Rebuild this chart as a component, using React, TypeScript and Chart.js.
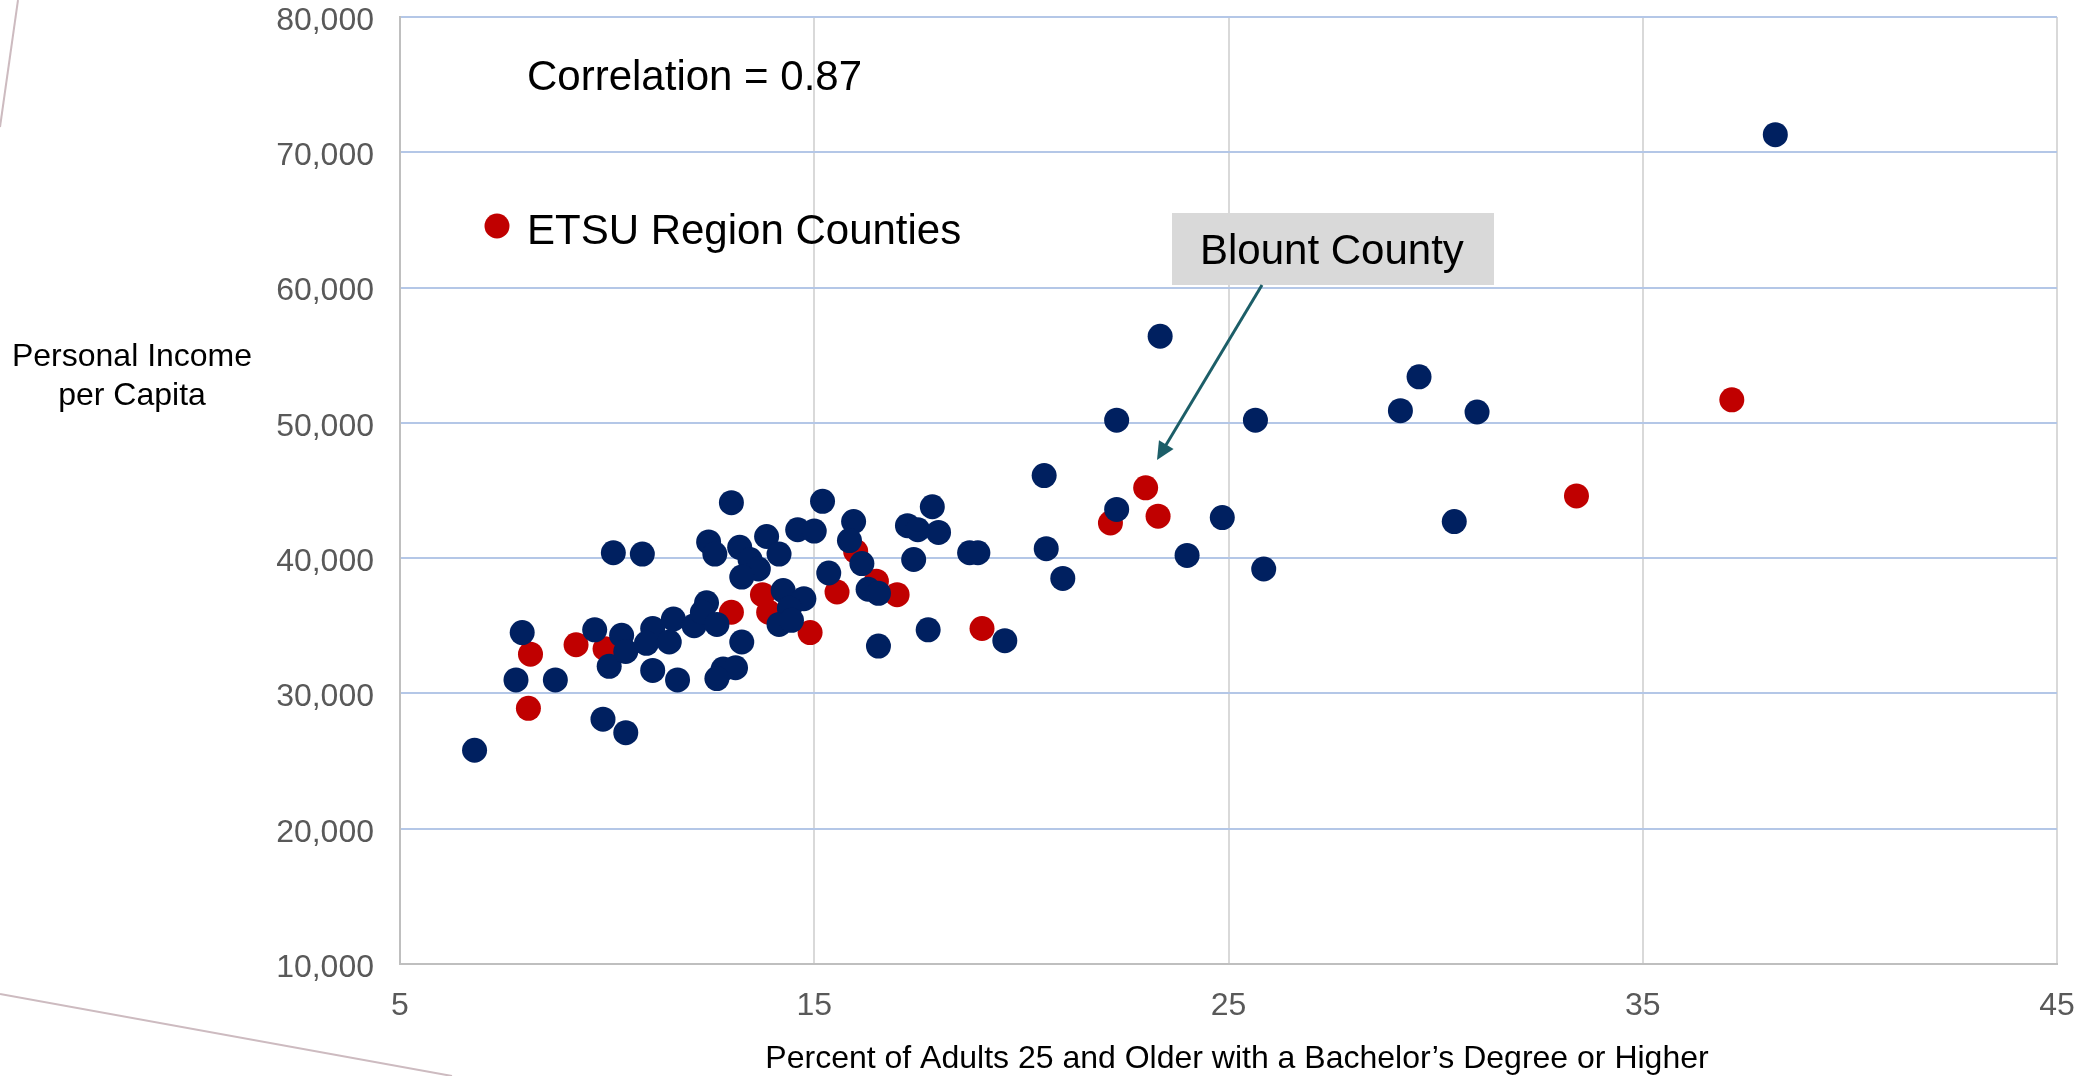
import React, { useEffect, useRef } from "react";
import { Chart, registerables } from "chart.js";

Chart.register(...registerables);

// ---- Data (percent with bachelor's degree, personal income per capita) ----
const otherX = [
  6.8, 7.95, 7.8, 8.75, 9.7, 10.15, 10.85, 10.35, 10.05, 10.45, 9.9, 10.45,
  11.1, 10.95, 11.1, 11.5, 11.6, 11.7, 12.1, 12.4, 12.3, 12.65, 13.25, 12.8,
  13.1, 12.65, 13.0, 12.45, 12.6, 13.2, 13.45, 13.65, 13.25, 13.85, 14.15,
  14.6, 15.0, 15.2, 15.35, 14.25, 14.75, 14.4, 14.15, 14.45, 15.95, 15.85,
  16.15, 16.3, 16.55, 16.55, 17.25, 17.5, 17.85, 18.0, 17.4, 17.75, 18.75,
  18.95, 19.6, 20.55, 20.6, 21.0, 22.3, 24.0, 23.35, 22.3, 25.65, 29.6,
  29.15, 24.85, 25.85, 31.0, 30.45, 38.2,
];
const otherY = [
  25800, 34500, 31000, 31000, 34700, 40400, 40300, 34300, 32000, 33100, 28100,
  27100, 34800, 33700, 31700, 33800, 35500, 31000, 35000, 36700, 36000, 35100,
  33800, 31800, 31900, 31100, 44100, 41200, 40300, 40800, 39900, 39200, 38600,
  41600, 40300, 42100, 42000, 44200, 38900, 37600, 37000, 36300, 35100, 35400,
  42700, 41300, 39600, 37700, 37400, 33500, 42400, 42100, 43800, 41900, 39900,
  34700, 40400, 40400, 33900, 46100, 40700, 38500, 43600, 40200, 56400, 50200,
  50200, 53400, 50900, 43000, 39200, 50800, 42700, 71300,
];
const etsuX = [
  8.15, 8.1, 9.25, 9.95, 13.0, 13.75, 13.9, 14.9, 15.55, 16.0, 16.5, 17.0,
  19.05, 22.15, 23.0, 23.3, 33.4, 37.15,
];
const etsuY = [
  32900, 28900, 33600, 33300, 36000, 37300, 36000, 34500, 37500, 40500, 38300,
  37300, 34800, 42600, 45200, 43100, 44600, 51700,
];
const xTickValues = [5, 15, 25, 35, 45];
const yTickValues = [10000, 20000, 30000, 40000, 50000, 60000, 70000, 80000];

const legendLabel = "ETSU Region Counties";
const correlationLabel = "Correlation = 0.87";
const calloutLabel = "Blount County";
const xTitle = "Percent of Adults 25 and Older with a Bachelor\u2019s Degree or Higher";
const yTitleLines = ["Personal Income", "per Capita"];

const NAVY = "#002060";
const RED = "#C00000";
const FONT = '"Liberation Sans", Arial, Helvetica, sans-serif';

const overlayPlugin = {
  id: "overlay",
  afterDraw(chart: any) {
    const ctx = chart.ctx as CanvasRenderingContext2D;
    ctx.save();

    // decorative slide lines
    ctx.strokeStyle = "#CDBBC0";
    ctx.lineWidth = 2;
    ctx.beginPath();
    ctx.moveTo(18, 0);
    ctx.lineTo(0, 127);
    ctx.stroke();
    ctx.beginPath();
    ctx.moveTo(0, 994);
    ctx.lineTo(452, 1076);
    ctx.stroke();

    // y axis title (horizontal, two lines)
    ctx.fillStyle = "#000000";
    ctx.textAlign = "center";
    ctx.textBaseline = "alphabetic";
    ctx.font = `32px ${FONT}`;
    ctx.fillText(yTitleLines[0], 132, 366);
    ctx.fillText(yTitleLines[1], 132, 405);

    // x axis title
    ctx.font = `32px ${FONT}`;
    ctx.fillText(xTitle, 1237, 1068);

    // correlation text
    ctx.textAlign = "left";
    ctx.font = `42px ${FONT}`;
    ctx.fillText(correlationLabel, 527, 90);

    // legend
    ctx.fillStyle = RED;
    ctx.beginPath();
    ctx.arc(497, 226, 12.5, 0, Math.PI * 2);
    ctx.fill();
    ctx.fillStyle = "#000000";
    ctx.fillText(legendLabel, 527, 244);

    // callout box
    ctx.fillStyle = "#D9D9D9";
    ctx.fillRect(1172, 213, 322, 72);
    ctx.fillStyle = "#000000";
    ctx.fillText(calloutLabel, 1200, 264);

    // arrow
    const sx = 1262, sy = 285, tx = 1157, ty = 460;
    const dx = tx - sx, dy = ty - sy;
    const len = Math.hypot(dx, dy);
    const ux = dx / len, uy = dy / len;
    const headLen = 18, headW = 8.5;
    ctx.strokeStyle = "#1C5E68";
    ctx.fillStyle = "#1C5E68";
    ctx.lineWidth = 3;
    ctx.beginPath();
    ctx.moveTo(sx, sy);
    ctx.lineTo(tx - ux * (headLen - 2), ty - uy * (headLen - 2));
    ctx.stroke();
    const bx = tx - ux * headLen, by = ty - uy * headLen;
    ctx.beginPath();
    ctx.moveTo(tx, ty);
    ctx.lineTo(bx - uy * headW, by + ux * headW);
    ctx.lineTo(bx + uy * headW, by - ux * headW);
    ctx.closePath();
    ctx.fill();

    ctx.restore();
  },
};

export default function App() {
  const canvasRef = useRef<HTMLCanvasElement | null>(null);

  useEffect(() => {
    document.body.style.margin = "0";
    const canvas = canvasRef.current;
    if (!canvas) return;

    const otherPoints = otherX.map((x, i) => ({ x, y: otherY[i] }));
    const etsuPoints = etsuX.map((x, i) => ({ x, y: etsuY[i] }));

    const tickFont = { family: FONT, size: 32, lineHeight: 1.0 };

    const chart = new Chart(canvas, {
      type: "scatter",
      data: {
        datasets: [
          {
            label: "All Counties",
            data: otherPoints,
            backgroundColor: NAVY,
            borderWidth: 0,
            pointRadius: 12.5,
            pointHoverRadius: 12.5,
          },
          {
            label: legendLabel,
            data: etsuPoints,
            backgroundColor: RED,
            borderWidth: 0,
            pointRadius: 12.5,
            pointHoverRadius: 12.5,
          },
        ],
      },
      options: {
        responsive: false,
        animation: false,
        devicePixelRatio: 1,
        events: [],
        layout: {
          padding: { top: 17, right: 33, left: 0, bottom: 0 },
        },
        plugins: {
          legend: { display: false },
          tooltip: { enabled: false },
          title: { display: false },
        },
        scales: {
          x: {
            type: "linear",
            min: xTickValues[0],
            max: xTickValues[xTickValues.length - 1],
            afterBuildTicks: (scale: any) => {
              scale.ticks = xTickValues.map((v) => ({ value: v }));
            },
            ticks: {
              color: "#595959",
              font: tickFont,
              padding: 0,
              maxRotation: 0,
              autoSkip: false,
            },
            grid: {
              color: "#D9D9D9",
              lineWidth: 2,
              drawTicks: true,
              tickLength: 26,
              tickColor: "rgba(0,0,0,0)",
            },
            border: { color: "#BFBFBF", width: 2 },
            afterFit: (scale: any) => {
              scale.height = 112;
            },
          },
          y: {
            type: "linear",
            min: yTickValues[0],
            max: yTickValues[yTickValues.length - 1],
            afterBuildTicks: (scale: any) => {
              scale.ticks = yTickValues.map((v) => ({ value: v }));
            },
            ticks: {
              color: "#595959",
              font: tickFont,
              padding: 0,
              labelOffset: 4,
              autoSkip: false,
              callback: (v: any) => Number(v).toLocaleString("en-US"),
            },
            grid: {
              color: "#B4C7E7",
              lineWidth: 2,
              drawTicks: true,
              tickLength: 26,
              tickColor: "rgba(0,0,0,0)",
            },
            border: { color: "#BFBFBF", width: 2 },
            afterFit: (scale: any) => {
              scale.width = 400;
            },
          },
        },
      },
      plugins: [overlayPlugin],
    } as any);

    return () => {
      chart.destroy();
    };
  }, []);

  return (
    <div style={{ width: 2090, height: 1076, position: "relative", background: "#ffffff" }}>
      <canvas ref={canvasRef} width={2090} height={1076} style={{ display: "block" }} />
    </div>
  );
}
